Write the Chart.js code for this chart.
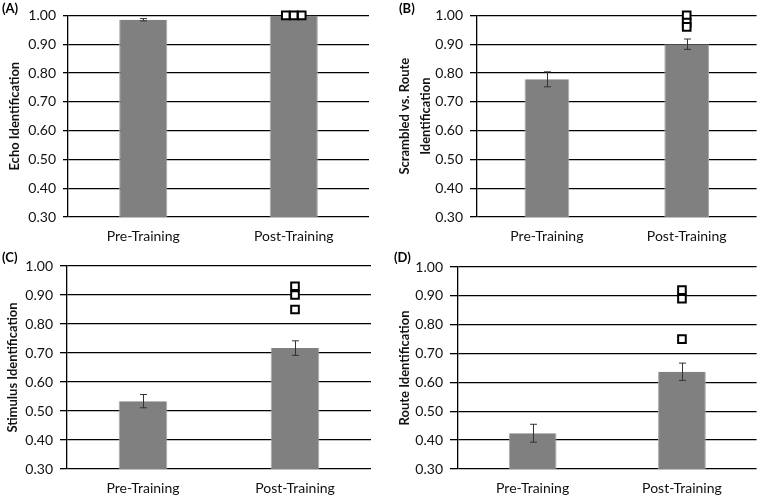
<!DOCTYPE html>
<html><head><meta charset="utf-8">
<script src="https://cdn.jsdelivr.net/npm/chart.js@4.4.1/dist/chart.umd.min.js"></script>
<style>
html,body{margin:0;padding:0;background:#fff;}
#wrap{position:relative;width:764px;height:498px;overflow:hidden;}
.panel{position:absolute;width:382px;height:249px;}
.lab{position:absolute;font:bold 13px Lato, sans-serif;color:#000;line-height:14px;}
</style></head>
<body>
<div id="wrap">
  <div class="panel" style="left:0;top:0"><canvas id="cA"></canvas></div>
  <div class="panel" style="left:382px;top:0"><canvas id="cB"></canvas></div>
  <div class="panel" style="left:0;top:249px"><canvas id="cC"></canvas></div>
  <div class="panel" style="left:382px;top:249px"><canvas id="cD"></canvas></div>
  <div class="lab" style="left:2px;top:1px">(A)</div>
  <div class="lab" style="left:399px;top:1px">(B)</div>
  <div class="lab" style="left:2px;top:250px">(C)</div>
  <div class="lab" style="left:394px;top:250px">(D)</div>
</div>
<script>
// ---- data ----
const categories = ['Pre-Training', 'Post-Training'];
const yMin = 0.30, yMax = 1.00, yStep = 0.10;

const echoMeans = [0.985, 1.00];
const echoErrors = [0.004, 0];
const echoPoints = [1.00, 1.00, 1.00];

const scrambledMeans = [0.778, 0.900];
const scrambledErrors = [0.026, 0.018];
const scrambledPoints = [1.00, 0.975, 0.96];

const stimulusMeans = [0.534, 0.717];
const stimulusErrors = [0.023, 0.025];
const stimulusPoints = [0.93, 0.90, 0.85];

const routeMeans = [0.424, 0.637];
const routeErrors = [0.031, 0.030];
const routePoints = [0.92, 0.89, 0.75];

// ---- drawing ----
Chart.defaults.color = '#111';
Chart.defaults.font.family = 'Lato, sans-serif';

const errorBarPlugin = {
  id: 'errbars',
  afterDatasetsDraw(chart) {
    const errs = chart.options.plugins.errbars.errors;
    const meta = chart.getDatasetMeta(0);
    const ys = chart.scales.y;
    const ctx = chart.ctx;
    ctx.save();
    ctx.strokeStyle = '#333';
    ctx.lineWidth = 1;
    meta.data.forEach((bar, i) => {
      const e = errs[i];
      if (!e) return;
      const v = chart.data.datasets[0].data[i];
      const x = Math.round(bar.x) + 0.5;
      const y1 = ys.getPixelForValue(v + e), y2 = ys.getPixelForValue(v - e);
      ctx.beginPath();
      ctx.moveTo(x, y1); ctx.lineTo(x, y2);
      ctx.moveTo(x - 3.5, y1); ctx.lineTo(x + 3.5, y1);
      ctx.moveTo(x - 3.5, y2); ctx.lineTo(x + 3.5, y2);
      ctx.stroke();
    });
    ctx.restore();
  }
};

function makePanel(id, p) {
  const pts = p.points.map((v, i) => ({
    x: 1 + (p.spread ? (i - (p.points.length - 1) / 2) * p.spread : 0),
    y: v
  }));
  new Chart(document.getElementById(id), {
    type: 'bar',
    data: {
      labels: categories,
      datasets: [
        {
          type: 'bar', data: p.means, grouped: false,
          backgroundColor: '#808080', borderColor: '#a8a8a8', borderWidth: {left:1,right:1,top:0,bottom:0},
          categoryPercentage: 1, barPercentage: 0.32, order: 2
        },
        {
          type: 'scatter', data: pts, xAxisID: 'x2',
          pointStyle: 'rect', pointRadius: 5.4, pointBorderWidth: 2,
          pointBackgroundColor: '#fff', pointBorderColor: '#000', clip: false, order: 1
        }
      ]
    },
    options: {
      responsive: false, animation: false,
      layout: { padding: { left: 0, top: p.top, right: p.right, bottom: 0 } },
      plugins: { legend: { display: false }, tooltip: { enabled: false }, errbars: { errors: p.errors } },
      scales: {
        x: {
          type: 'category', offset: true,
          grid: { display: false, drawTicks: false },
          border: { display: false },
          ticks: { padding: 11, font: { size: 14 }, color: '#111' },
          afterFit: s => { s.height = p.xh; }
        },
        x2: { type: 'linear', display: false, offset: false, grid: { offset: false }, min: -0.5, max: 1.5 },
        y: {
          min: yMin, max: yMax,
          ticks: { stepSize: yStep, padding: 7, font: { size: 14 }, color: '#111',
                   callback: v => v.toFixed(2) },
          grid: { color: '#000', lineWidth: 1.3, tickLength: p.tl },
          border: { display: true, color: '#000', width: 1.3 },
          title: { display: true, text: p.title, font: { size: 13, weight: 'bold', lineHeight: p.lh || 1.2 },
                   padding: { top: p.tpad, bottom: 0 }, color: '#111' },
          afterFit: s => { s.width = p.yw; }
        }
      }
    },
    plugins: [errorBarPlugin]
  });
}

const W = 382, H = 249;
['cA','cB','cC','cD'].forEach(id => { const c = document.getElementById(id); c.width = W; c.height = H; });

makePanel('cA', { means: echoMeans, errors: echoErrors, points: echoPoints, spread: 0.053,
  title: 'Echo Identification', top: 15, right: 13, xh: 32, yw: 68, tl: 5, tpad: 7 });
makePanel('cB', { means: scrambledMeans, errors: scrambledErrors, points: scrambledPoints,
  title: ['Scrambled vs. Route', 'Identification'], lh: 1.65, top: 15, right: 0, xh: 32, yw: 95, tl: 7, tpad: 12 });
makePanel('cC', { means: stimulusMeans, errors: stimulusErrors, points: stimulusPoints,
  title: 'Stimulus Identification', top: 17, right: 11, xh: 29, yw: 67, tl: 7, tpad: 5 });
makePanel('cD', { means: routeMeans, errors: routeErrors, points: routePoints,
  title: 'Route Identification', top: 18, right: 0, xh: 29, yw: 76, tl: 8, tpad: 15 });
</script>
</body></html>
